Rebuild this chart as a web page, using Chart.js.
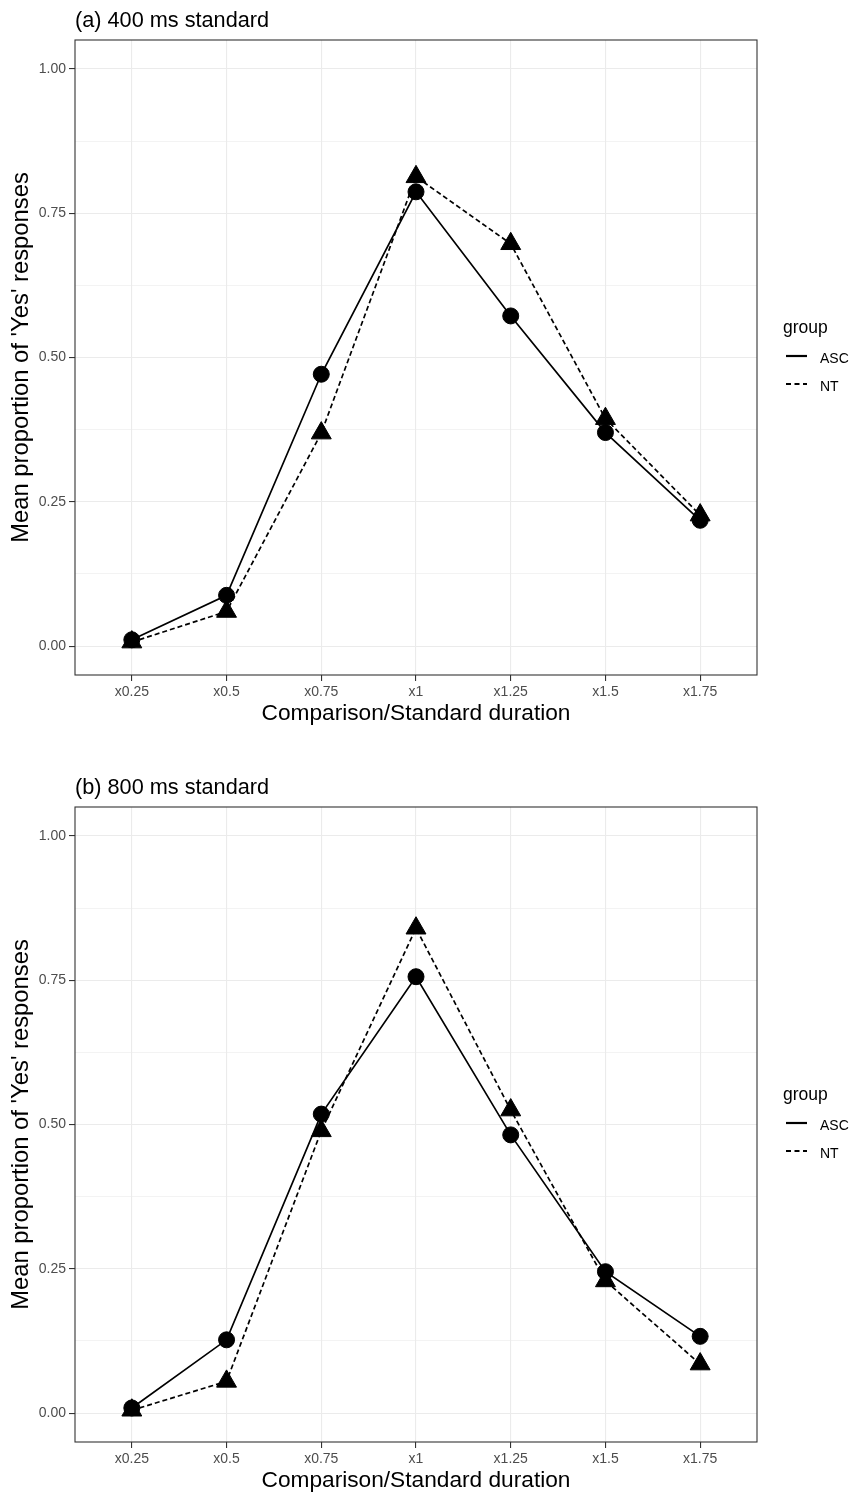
<!DOCTYPE html>
<html>
<head>
<meta charset="utf-8">
<script src="https://cdn.jsdelivr.net/npm/chart.js@4.4.1/dist/chart.umd.min.js"></script>
<style>
  body { margin: 0; background: #fff; }
  canvas { display: block; }
</style>
</head>
<body>
<canvas id="chartA" width="853" height="767"></canvas>
<canvas id="chartB" width="853" height="725"></canvas>
<script>
const categories = ['x0.25', 'x0.5', 'x0.75', 'x1', 'x1.25', 'x1.5', 'x1.75'];
const groups = ['ASC', 'NT'];
const yTicks = [0, 0.125, 0.25, 0.375, 0.5, 0.625, 0.75, 0.875, 1];

// panel (a) 400 ms standard
const ascA = [0.011, 0.088, 0.471, 0.787, 0.572, 0.370, 0.218];
const ntA  = [0.007, 0.060, 0.369, 0.813, 0.697, 0.394, 0.227];

// panel (b) 800 ms standard
const ascB = [0.009, 0.127, 0.518, 0.756, 0.482, 0.245, 0.133];
const ntB  = [0.005, 0.055, 0.489, 0.840, 0.525, 0.229, 0.085];

const FONT = "'Liberation Sans', Arial, sans-serif";

const toPoints = vals => vals.map((v, i) => ({x: i + 1, y: v}));
const isMajor = v => Math.abs(v * 4 - Math.round(v * 4)) < 1e-6;

const panelDecor = {
    id: 'panelDecor',
    afterDraw(chart, args, opts) {
        const {ctx, chartArea: a} = chart;
        ctx.save();
        // panel border
        ctx.strokeStyle = '#333333';
        ctx.lineWidth = 1.1;
        ctx.strokeRect(a.left, a.top, a.right - a.left, a.bottom - a.top);

        // title
        ctx.fillStyle = '#000';
        ctx.font = `21.7px ${FONT}`;
        ctx.textAlign = 'left';
        ctx.textBaseline = 'alphabetic';
        ctx.fillText(opts.title, a.left, 27);

        // legend
        const cy = (a.top + a.bottom) / 2;
        const lx = a.right + 26;
        ctx.font = `17.5px ${FONT}`;
        ctx.fillText('group', lx, cy - 24.5);
        ctx.font = `14px ${FONT}`;
        const dashes = [[], [5, 3.5]];
        groups.forEach((g, i) => {
            const y = cy - 1.5 + i * 28;
            ctx.strokeStyle = '#000';
            ctx.lineWidth = 2.2;
            ctx.setLineDash(dashes[i]);
            ctx.beginPath();
            ctx.moveTo(lx + 3, y);
            ctx.lineTo(lx + 24, y);
            ctx.stroke();
            ctx.setLineDash([]);
            ctx.fillText(g, lx + 37, y + 7);
        });
        ctx.restore();
    }
};

function makePanel(id, title, asc, nt, bottomPad) {
    const ctx = document.getElementById(id).getContext('2d');
    return new Chart(ctx, {
        type: 'line',
        data: {
            datasets: [{
                label: groups[0],
                data: toPoints(asc),
                borderColor: '#000',
                backgroundColor: '#000',
                borderWidth: 1.7,
                pointStyle: 'circle',
                pointRadius: 8,
                pointBorderWidth: 1,
                pointBackgroundColor: '#000',
                pointBorderColor: '#000',
                tension: 0
            }, {
                label: groups[1],
                data: toPoints(nt),
                borderColor: '#000',
                backgroundColor: '#000',
                borderWidth: 1.7,
                borderDash: [5, 3],
                pointStyle: 'triangle',
                pointRadius: 11.5,
                pointBorderWidth: 1,
                pointBackgroundColor: '#000',
                pointBorderColor: '#000',
                tension: 0
            }]
        },
        options: {
            responsive: false,
            animation: false,
            layout: { padding: { left: 0, top: 40, right: 96, bottom: bottomPad } },
            plugins: {
                legend: { display: false },
                tooltip: { enabled: false },
                title: { display: false },
                panelDecor: { title: title }
            },
            scales: {
                x: {
                    type: 'linear',
                    min: 0.4,
                    max: 7.6,
                    afterBuildTicks: scale => {
                        scale.ticks = categories.map((c, i) => ({value: i + 1}));
                    },
                    afterFit: scale => { scale.height = 50; },
                    ticks: {
                        autoSkip: false,
                        maxRotation: 0,
                        padding: 3,
                        color: '#4d4d4d',
                        font: { family: FONT, size: 14 },
                        callback: v => categories[Math.round(v) - 1]
                    },
                    grid: {
                        color: '#ebebeb',
                        lineWidth: 1.1,
                        tickColor: '#333333',
                        tickLength: 6,
                        tickWidth: 1.1
                    },
                    border: { display: false },
                    title: {
                        display: true,
                        text: 'Comparison/Standard duration',
                        color: '#000',
                        font: { family: FONT, size: 22.7, lineHeight: 1 },
                        padding: { top: 0, bottom: 0 }
                    }
                },
                y: {
                    type: 'linear',
                    min: -0.05,
                    max: 1.05,
                    afterBuildTicks: scale => {
                        scale.ticks = yTicks.map(v => ({value: v}));
                    },
                    afterFit: scale => { scale.width = 75; },
                    ticks: {
                        autoSkip: false,
                        padding: 3,
                        color: '#4d4d4d',
                        font: { family: FONT, size: 14 },
                        callback: v => isMajor(v) ? v.toFixed(2) : ''
                    },
                    grid: {
                        color: '#ebebeb',
                        lineWidth: c => isMajor(c.tick.value) ? 1.1 : 0.6,
                        tickColor: c => isMajor(c.tick.value) ? '#333333' : 'rgba(0,0,0,0)',
                        tickLength: 6,
                        tickWidth: 1.1
                    },
                    border: { display: false },
                    title: {
                        display: true,
                        text: "Mean proportion of 'Yes' responses",
                        color: '#000',
                        font: { family: FONT, size: 23.8, lineHeight: 1 },
                        padding: { top: 9.5, bottom: 0 }
                    }
                }
            }
        },
        plugins: [panelDecor]
    });
}

makePanel('chartA', '(a) 400 ms standard', ascA, ntA, 42);
makePanel('chartB', '(b) 800 ms standard', ascB, ntB, 0);
</script>
</body>
</html>
